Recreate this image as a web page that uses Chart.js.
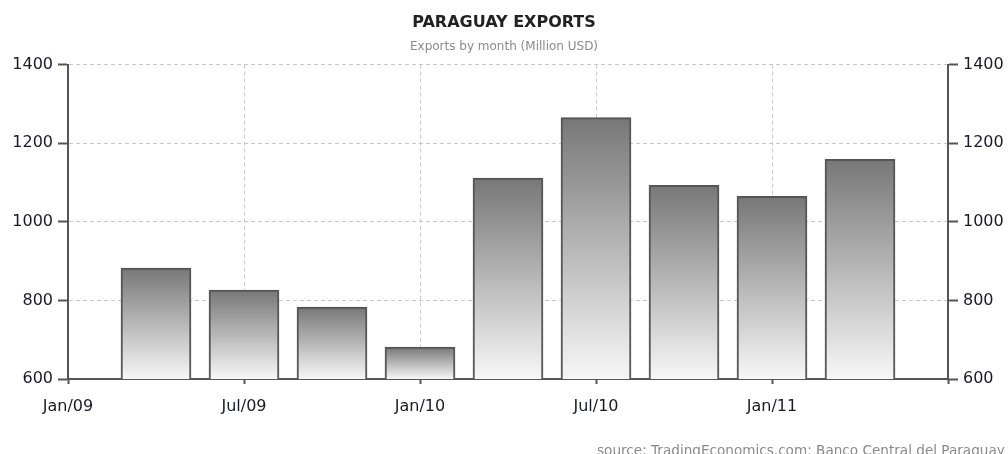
<!DOCTYPE html>
<html>
<head>
<meta charset="utf-8">
<script src="https://cdn.jsdelivr.net/npm/chart.js@4/dist/chart.umd.min.js"></script>
<style>
  body { margin: 0; background: #fff; }
  #wrap { position: relative; width: 1008px; height: 454px; }
  #source { position: absolute; left: 597px; top: 442px; font: 13.6px "DejaVu Sans", sans-serif; color: #8a8a8a; white-space: nowrap; }
</style>
</head>
<body>
<div id="wrap">
  <canvas id="chart"></canvas>
  <div id="source">source: TradingEconomics.com: Banco Central del Paraguay</div>
</div>
<script>
// Quartale, Monate ab Jan/09
const categories = ['Apr/09', 'Jul/09', 'Oct/09', 'Jan/10', 'Apr/10', 'Jul/10', 'Oct/10', 'Jan/11', 'Apr/11'];
const monthIndex = [3, 6, 9, 12, 15, 18, 21, 24, 27];
const exportsUsd = [882, 826, 783, 681, 1111, 1265, 1093, 1065, 1159];
const tickLabels = ['Jan/09', 'Jul/09', 'Jan/10', 'Jul/10', 'Jan/11'];
const yTicks = [600, 800, 1000, 1200, 1400];

const fontFam = '"DejaVu Sans", Verdana, sans-serif';
const axisColor = '#555';
const gridColor = '#c8c8c8';

// Verlauf pro Balken: oben dunkel, unten fast weiss
function barGradient(ctx) {
    const chart = ctx.chart;
    const y = chart.scales.y;
    if (!y || ctx.type !== 'data' || !ctx.raw) return '#aaa';
    const top = y.getPixelForValue(ctx.raw.y);
    const bottom = y.getPixelForValue(y.min);
    if (!isFinite(top) || !isFinite(bottom) || top === bottom) return '#aaa';
    const g = chart.ctx.createLinearGradient(0, top, 0, bottom);
    g.addColorStop(0, '#777777');
    g.addColorStop(1, '#f7f7f7');
    return g;
}

function yAxis(position) {
    return {
        type: 'linear',
        position: position,
        min: 600,
        max: 1400,
        afterBuildTicks: s => { s.ticks = yTicks.map(v => ({ value: v })); },
        afterFit: s => { s.width = position === 'left' ? 68 : 60; },
        border: { display: true, color: axisColor, width: 2, dash: position === 'left' ? [4, 3] : [] },
        grid: {
            display: true,
            drawOnChartArea: position === 'left',
            color: gridColor,
            tickColor: axisColor,
            tickLength: 10,
            tickWidth: 2
        },
        ticks: {
            padding: 5,
            color: '#1a1a2a',
            font: { family: fontFam, size: 16 },
            callback: v => String(v)
        }
    };
}

new Chart(document.getElementById('chart'), {
    type: 'bar',
    data: {
        labels: categories,
        datasets: [{
            label: 'Exports',
            data: monthIndex.map((m, i) => ({ x: m, y: exportsUsd[i] })),
            backgroundColor: barGradient,
            borderColor: '#555',
            borderWidth: 2,
            borderSkipped: 'bottom',
            barThickness: 70
        }]
    },
    options: {
        responsive: true,
        maintainAspectRatio: false,
        animation: false,
        layout: { padding: { top: 0, right: 0, bottom: 0, left: 0 } },
        plugins: {
            legend: { display: false },
            tooltip: { enabled: false },
            title: {
                display: true,
                text: 'PARAGUAY EXPORTS',
                color: '#222',
                font: { family: fontFam, size: 16, weight: 'bold' },
                padding: { top: 13, bottom: 7 }
            },
            subtitle: {
                display: true,
                text: 'Exports by month (Million USD)',
                color: '#8a8a8a',
                font: { family: fontFam, size: 12 },
                padding: { top: 0, bottom: 11 }
            }
        },
        scales: {
            x: {
                type: 'linear',
                min: 0,
                max: 30,
                offset: false,
                afterFit: s => { s.height = 75; },
                border: { display: true, color: axisColor, width: 2, dash: [4, 3] },
                grid: {
                    color: gridColor,
                    tickColor: axisColor,
                    tickLength: 5,
                    tickWidth: 2,
                    offset: false
                },
                ticks: {
                    stepSize: 6,
                    padding: 13,
                    maxRotation: 0,
                    autoSkip: false,
                    color: '#1a1a2a',
                    font: { family: fontFam, size: 16 },
                    callback: v => tickLabels[v / 6] || ''
                }
            },
            y: yAxis('left'),
            y2: yAxis('right')
        }
    }
});
</script>
</body>
</html>
